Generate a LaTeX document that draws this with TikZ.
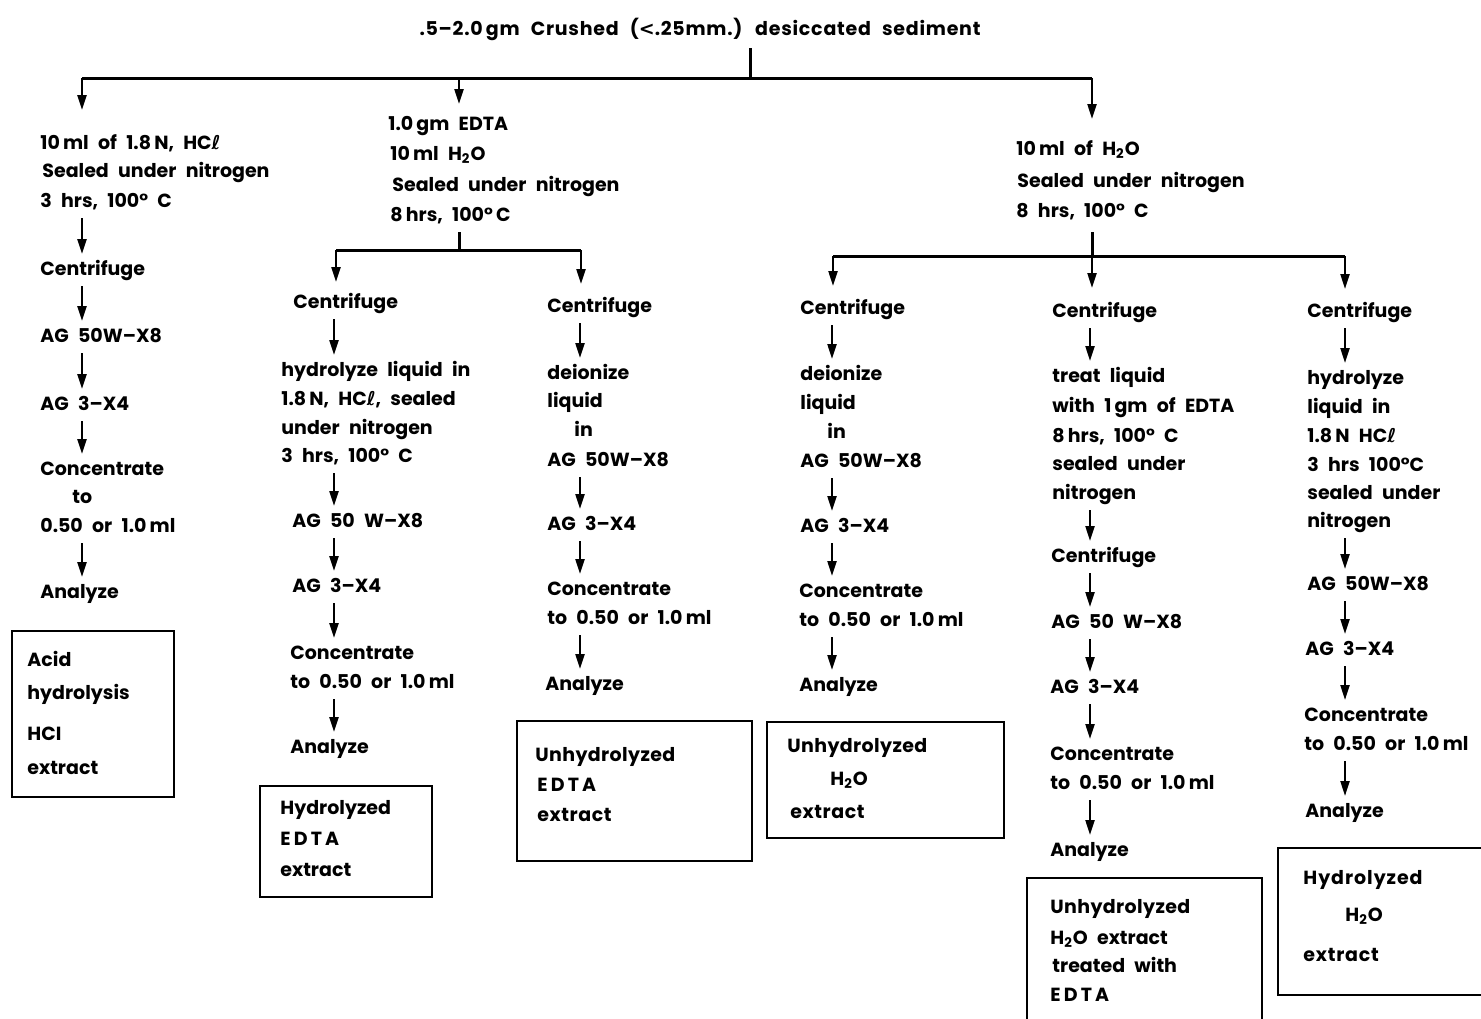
\documentclass[tikz,border=0pt]{standalone}
\usepackage{fontspec}
\setmainfont{Poppins}[WordSpace=2.3]
\newfontfamily\dvfont{DejaVu Sans}
\usetikzlibrary{arrows.meta,calc}
\newcommand\hcl{HC{\dvfont ℓ}}
\newcommand\wat{H\textsubscript{2}O}
\begin{document}
\begin{tikzpicture}[x=0.5pt,y=-0.5pt,
  every node/.style={inner sep=0pt},
  t/.style={anchor=base west,font=\fontsize{9.5}{12}\selectfont\bfseries},
  tc/.style={anchor=base,font=\fontsize{9.5}{12}\selectfont\bfseries},
  ln/.style={line width=1.5pt},
  arr/.style={line width=1.1pt,-{Triangle[length=7.5pt,width=4.5pt]}},
  bx/.style={draw,line width=1.4pt,rectangle}]
\useasboundingbox (0,0) rectangle (1481,1018);
% title
\node[tc] (title) at (700,35) {\addfontfeature{LetterSpace=4}.5–2.0\,gm Crushed ({\dvfont\bfseries <}.25mm.) desiccated sediment};
\coordinate (j0) at (750,78);
\coordinate (b0L) at (82,78);
\coordinate (b0M) at (459,78);
\coordinate (b0R) at (1092,78);
\draw[ln] (title.base -| j0) ++(0,13) -- (j0);
\draw[ln] (b0L) -- (b0R);
% column L
\node[t] (L1) at (40,149) {10\,ml of 1.8\,N, \hcl};
\node[t] (L2) at (42,177) {Sealed under nitrogen};
\node[t] (L3) at (40,207) {3 hrs, 100° C};
\node[t] (L4) at (40,275) {Centrifuge};
\node[t] (L5) at (40,342) {AG 50W–X8};
\node[t] (L6) at (40,410) {AG 3–X4};
\node[t] (L7) at (40,475) {Concentrate};
\node[t] (L8) at (72,503) {to};
\node[t] (L9) at (40,532) {0.50 or 1.0\,ml};
\node[t] (L10) at (40,598) {Analyze};
\node[bx,minimum width=81pt,minimum height=83pt] (LB) at (93,714) {};
\node[t] (LB1) at (27,666) {Acid};
\node[t] (LB2) at (27,699) {hydrolysis};
\node[t] (LB3) at (27,740) {HCI};
\node[t] (LB4) at (27,774) {extract};
\coordinate (cL) at (82,0);
\draw[arr] (b0L) -- ($(L1.base -| b0L)+(0,-39)$);
\foreach \a/\b in {L3/L4,L4/L5,L5/L6,L6/L7,L9/L10}
  \draw[arr] (\a.base -| cL) ++(0,11) -- ($(\b.base -| cL)+(0,-21)$);
% column EDTA
\node[t] (E1) at (388,130) {1.0\,gm EDTA};
\node[t] (E2) at (390,160) {10\,ml \wat};
\node[t] (E3) at (392,191) {Sealed under nitrogen};
\node[t] (E4) at (390,221) {8\,hrs, 100°\,C};
\draw[arr] (b0M) -- ($(E1.base -| b0M)+(0,-26)$);
\coordinate (jE) at (459,250);
\coordinate (bEL) at (336,250);
\coordinate (bER) at (581,250);
\draw[ln] (E4.base -| jE) ++(0,11) -- (jE);
\draw[ln] (bEL) -- (bER);
% sub A
\node[t] (A1) at (293,308) {Centrifuge};
\node[t] (A2) at (281,376) {hydrolyze liquid in};
\node[t] (A3) at (281,405) {1.8\,N, \hcl, sealed};
\node[t] (A4) at (281,434) {under nitrogen};
\node[t] (A5) at (281,462) {3 hrs, 100° C};
\node[t] (A6) at (292,527) {AG 50 W–X8};
\node[t] (A7) at (292,592) {AG 3–X4};
\node[t] (A8) at (290,659) {Concentrate};
\node[t] (A9) at (290,688) {to 0.50 or 1.0\,ml};
\node[t] (A10) at (290,753) {Analyze};
\node[bx,minimum width=86pt,minimum height=55.5pt] (AB) at (346,841.5) {};
\node[t] (AB1) at (280,814) {Hydrolyzed};
\node[t] (AB2) at (280,845) {E\,D\,T\,A};
\node[t] (AB3) at (280,876) {extract};
\coordinate (cA) at (334,0);
\draw[arr] (bEL) -- ($(A1.base -| bEL)+(0,-26)$);
\foreach \a/\b in {A1/A2,A5/A6,A6/A7,A7/A8,A9/A10}
  \draw[arr] (\a.base -| cA) ++(0,11) -- ($(\b.base -| cA)+(0,-21)$);
% sub B
\node[t] (B1) at (547,312) {Centrifuge};
\node[t] (B2) at (547,379) {deionize};
\node[t] (B3) at (547,407) {liquid};
\node[t] (B4) at (574,436) {in};
\node[t] (B5) at (547,466) {AG 50W–X8};
\node[t] (B6) at (547,530) {AG 3–X4};
\node[t] (B7) at (547,595) {Concentrate};
\node[t] (B8) at (547,624) {to 0.50 or 1.0\,ml};
\node[t] (B9) at (545,690) {Analyze};
\node[bx,minimum width=117.5pt,minimum height=70pt] (BB) at (634.5,791) {};
\node[t] (BB1) at (535,761) {\addfontfeature{LetterSpace=2}Unhydrolyzed};
\node[t] (BB2) at (537,791) {E\,D\,T\,A};
\node[t] (BB3) at (537,821) {\addfontfeature{LetterSpace=3}extract};
\coordinate (cB) at (580,0);
\draw[arr] (bER) -- ($(B1.base -| bER)+(0,-28)$);
\foreach \a/\b in {B1/B2,B5/B6,B6/B7,B8/B9}
  \draw[arr] (\a.base -| cB) ++(0,11) -- ($(\b.base -| cB)+(0,-21)$);
% column H2O
\node[t] (W1) at (1016,155) {10\,ml of \wat};
\node[t] (W2) at (1017,187) {Sealed under nitrogen};
\node[t] (W3) at (1016,217) {8 hrs, 100° C};
\draw[arr] (b0R) -- ($(W1.base -| b0R)+(0,-36)$);
\coordinate (jW) at (1092,256);
\coordinate (bWL) at (833,256);
\coordinate (bWR) at (1345,256);
\draw[ln] (W3.base -| jW) ++(0,15) -- (jW);
\draw[ln] (bWL) -- (bWR);
% sub C
\node[t] (C1) at (800,314) {Centrifuge};
\node[t] (C2) at (800,380) {deionize};
\node[t] (C3) at (800,409) {liquid};
\node[t] (C4) at (827,438) {in};
\node[t] (C5) at (800,467) {AG 50W–X8};
\node[t] (C6) at (800,532) {AG 3–X4};
\node[t] (C7) at (799,597) {Concentrate};
\node[t] (C8) at (799,626) {to 0.50 or 1.0\,ml};
\node[t] (C9) at (799,691) {Analyze};
\node[bx,minimum width=118.5pt,minimum height=58pt] (CB) at (885.5,780) {};
\node[t] (CB1) at (787,752) {\addfontfeature{LetterSpace=2}Unhydrolyzed};
\node[t] (CB2) at (830,785) {\wat};
\node[t] (CB3) at (790,818) {\addfontfeature{LetterSpace=3}extract};
\coordinate (cC) at (832,0);
\draw[arr] (bWL) -- ($(C1.base -| bWL)+(0,-28)$);
\foreach \a/\b in {C1/C2,C5/C6,C6/C7,C8/C9}
  \draw[arr] (\a.base -| cC) ++(0,11) -- ($(\b.base -| cC)+(0,-21)$);
% sub D
\node[t] (D1) at (1052,317) {Centrifuge};
\node[t] (D2) at (1052,382) {treat liquid};
\node[t] (D3) at (1052,412) {with 1\,gm of EDTA};
\node[t] (D4) at (1052,442) {8\,hrs, 100° C};
\node[t] (D5) at (1052,470) {sealed under};
\node[t] (D6) at (1052,499) {nitrogen};
\node[t] (D7) at (1051,562) {Centrifuge};
\node[t] (D8) at (1051,628) {AG 50 W–X8};
\node[t] (D9) at (1050,693) {AG 3–X4};
\node[t] (D10) at (1050,760) {Concentrate};
\node[t] (D11) at (1050,789) {to 0.50 or 1.0\,ml};
\node[t] (D12) at (1050,856) {Analyze};
\node[bx,minimum width=117.5pt,minimum height=81pt] (DB) at (1144.5,959) {};
\node[t] (DB1) at (1050,913) {\addfontfeature{LetterSpace=2}Unhydrolyzed};
\node[t] (DB2) at (1050,944) {\wat\ extract};
\node[t] (DB3) at (1052,972) {treated with};
\node[t] (DB4) at (1050,1001) {E\,D\,T\,A};
\coordinate (cD) at (1090,0);
\draw[arr] (jW) -- ($(D1.base -| jW)+(0,-29)$);
\foreach \a/\b in {D1/D2,D6/D7,D7/D8,D8/D9,D9/D10,D11/D12}
  \draw[arr] (\a.base -| cD) ++(0,11) -- ($(\b.base -| cD)+(0,-21)$);
% sub E
\node[t] (F1) at (1307,317) {Centrifuge};
\node[t] (F2) at (1307,384) {hydrolyze};
\node[t] (F3) at (1307,413) {liquid in};
\node[t] (F4) at (1307,442) {1.8\,N \hcl};
\node[t] (F5) at (1307,471) {3 hrs 100°C};
\node[t] (F6) at (1307,499) {sealed under};
\node[t] (F7) at (1307,527) {nitrogen};
\node[t] (F8) at (1307,590) {AG 50W–X8};
\node[t] (F9) at (1305,655) {AG 3–X4};
\node[t] (F10) at (1304,721) {Concentrate};
\node[t] (F11) at (1304,750) {to 0.50 or 1.0\,ml};
\node[t] (F12) at (1305,817) {Analyze};
\node[bx,minimum width=111pt,minimum height=73.5pt] (FB) at (1389,921.5) {};
\node[t] (FB1) at (1303,884) {\addfontfeature{LetterSpace=5}Hydrolyzed};
\node[t] (FB2) at (1345,921) {\wat};
\node[t] (FB3) at (1303,961) {\addfontfeature{LetterSpace=4}extract};
\coordinate (cF) at (1345,0);
\draw[arr] (bWR) -- ($(F1.base -| bWR)+(0,-28)$);
\foreach \a/\b in {F1/F2,F7/F8,F8/F9,F9/F10,F11/F12}
  \draw[arr] (\a.base -| cF) ++(0,11) -- ($(\b.base -| cF)+(0,-21)$);
\end{tikzpicture}
\end{document}
